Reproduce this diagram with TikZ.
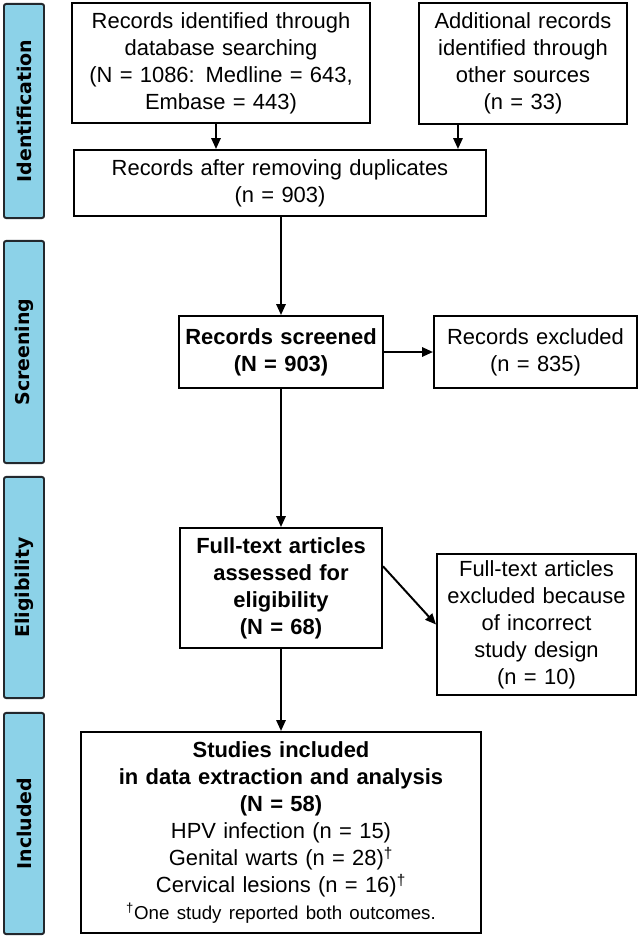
\documentclass[tikz,border=0pt]{standalone}
\usepackage{fontspec}
\setmainfont{Liberation Sans}
\newfontfamily\phasefont{DejaVu Sans}
\usepackage{tikz}
\usetikzlibrary{arrows.meta}
\definecolor{phase}{RGB}{140,210,232}
\definecolor{phaseline}{RGB}{35,40,45}

\begin{document}
\begin{tikzpicture}[x=0.025cm,y=-0.025cm,
	box/.style={draw=black,line width=1.4pt,fill=white,inner sep=0pt,align=center,font=\fontsize{15.6}{19.2}\selectfont},
	boldbox/.style={box,font=\fontsize{15.6}{19.2}\selectfont\bfseries},
	bar/.style={draw=phaseline,line width=1.4pt,fill=phase,rounded corners=1.5pt,rotate=90,minimum height=1cm,inner sep=0pt,font=\phasefont\fontsize{13.5}{15}\selectfont\bfseries},
	arr/.style={line width=1.4pt,-{Triangle[length=0.27cm,width=0.23cm]}}]
					\useasboundingbox (0,0) rectangle (641,938);
					\coordinate (p1) at (24,111);
					\coordinate (p2) at (24,352);
					\coordinate (p3) at (24,587.5);
					\coordinate (p4) at (24,823.5);
					\coordinate (a) at (221,63);
					\coordinate (b) at (523,63.5);
					\coordinate (c) at (280,183);
					\coordinate (d) at (281,352);
					\coordinate (e) at (535.5,352);
					\coordinate (f) at (281,588);
					\coordinate (g) at (536.5,624.5);
					\coordinate (h) at (281,832.5);
					
					% phase bars
					\node (idbar) at (p1) [bar,minimum width=5.35cm] {Identification};
					\node (scbar) at (p2) [bar,minimum width=5.55cm] {Screening};
					\node (elbar) at (p3) [bar,minimum width=5.525cm] {Eligibility};
					\node (inbar) at (p4) [bar,minimum width=5.525cm] {Included};
					
					% boxes
					\node (dbrec) at (a) [box,minimum width=7.45cm,minimum height=3cm,text width=7.3cm] {Records identified through\\database searching\\(N = 1086: Medline = 643,\\Embase = 443)};
					\node (otherrec) at (b) [box,minimum width=5.2cm,minimum height=3.025cm,text width=5cm] {Additional records\\identified through\\other sources\\(n = 33)};
					\node (nodup) at (c) [box,minimum width=10.3cm,minimum height=1.65cm,text width=10.1cm] {Records after removing duplicates\\(n = 903)};
					\node (screened) at (d) [boldbox,minimum width=5.1cm,minimum height=1.8cm,text width=5cm] {Records screened\\(N = 903)};
					\node (excl) at (e) [box,minimum width=5.075cm,minimum height=1.8cm,text width=4.9cm] {Records excluded\\(n = 835)};
					\node (fulltext) at (f) [boldbox,minimum width=5.05cm,minimum height=3cm,text width=4.9cm] {Full-text articles\\assessed for\\eligibility\\(N = 68)};
					\node (ftexcl) at (g) [box,minimum width=4.975cm,minimum height=3.525cm,text width=4.8cm] {Full-text articles\\excluded because\\of incorrect\\study design\\(n = 10)};
					\node (incl) at (h) [box,minimum width=10cm,minimum height=5.025cm,text width=9.8cm] {\bfseries Studies included\\in data extraction and analysis\\(N = 58)\\\mdseries HPV infection (n = 15)\\Genital warts (n = 28)\textsuperscript{†}\\Cervical lesions (n = 16)\textsuperscript{†}\\\fontsize{13.3}{19.2}\selectfont\textsuperscript{†}One study reported both outcomes.};
					
					% arrows
					\draw[arr] ([xshift=-0.125cm]dbrec.south) to ([xshift=-0.125cm]dbrec.south |- nodup.north);
					\draw[arr] ([xshift=-1.625cm]otherrec.south) to ([xshift=-1.625cm]otherrec.south |- nodup.north);
					\draw[arr] (nodup.south -| screened.north) to (screened.north);
					\draw[arr] (screened.east) to (excl.west);
					\draw[arr] (screened.south) to (fulltext.north);
					\draw[arr] (fulltext.12) to (ftexcl.west);
					\draw[arr] (fulltext.south) to (incl.north);
				\end{tikzpicture}
\end{document}
